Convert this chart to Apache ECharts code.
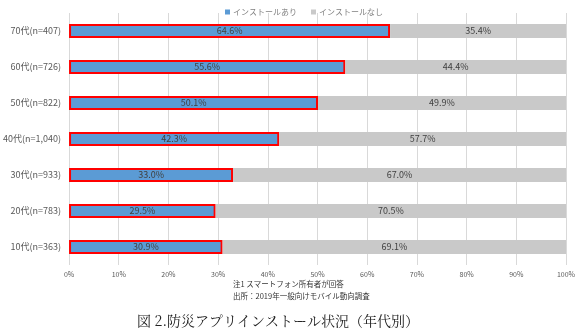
<!DOCTYPE html>
<html><head><meta charset="utf-8">
<script src="https://cdn.jsdelivr.net/npm/echarts@6/dist/echarts.min.js"></script>
<style>html,body{margin:0;padding:0;background:#fff}#c{width:580px;height:333px}</style>
</head><body><div id="c"></div>
<script>
const categories = ["70代(n=407)","60代(n=726)","50代(n=822)","40代(n=1,040)","30代(n=933)","20代(n=783)","10代(n=363)"];
const installed = [64.6, 55.6, 50.1, 42.3, 33.0, 29.5, 30.9];
const notInstalled = [35.4, 44.4, 49.9, 57.7, 67.0, 70.5, 69.1];
const seriesNames = ["インストールあり","インストールなし"];
const xTicks = [0,10,20,30,40,50,60,70,80,90,100];
const note1 = "注1 スマートフォン所有者が回答";
const note2 = "出所：2019年一般向けモバイル動向調査";
const title = "図 2.防災アプリインストール状況（年代別）";

const font = '"Noto Sans CJK JP", "Noto Sans", sans-serif';
const chart = echarts.init(document.getElementById('c'), null, {renderer:'canvas'});
chart.setOption({
  animation:false,
  textStyle:{fontFamily:font},
  legend:{
    top:3, left:220, itemWidth:5, itemHeight:5, itemGap:14,
    icon:'rect',
    itemStyle:{borderWidth:0},
    textStyle:{fontSize:8, color:'#808080', fontFamily:font, padding:[0,0,0,-2]},
    data:seriesNames
  },
  grid:{left:69, right:14, top:13, bottom:68, containLabel:false},
  xAxis:{
    type:'value', min:xTicks[0], max:xTicks[xTicks.length-1], interval:10,
    axisLine:{show:false}, axisTick:{show:false},
    splitLine:{lineStyle:{color:'#d9d9d9', width:1}},
    axisLabel:{fontSize:7, color:'#595959', margin:6, formatter:v=>v+'%'}
  },
  yAxis:{
    type:'category', inverse:true, data:categories,
    axisLine:{show:false}, axisTick:{show:false},
    axisLabel:{fontSize:9, color:'#595959', margin:8}
  },
  series:[
    {name:seriesNames[0], type:'bar', stack:'a', barWidth:14, data:installed,
     itemStyle:{color:'#5b9bd5', borderColor:'#ff0000', borderWidth:2},
     label:{show:true, position:'inside', fontSize:9, color:'#404040', formatter:p=>p.value.toFixed(1)+'%'}},
    {name:seriesNames[1], type:'bar', stack:'a', barWidth:14, data:notInstalled,
     itemStyle:{color:'#c9c9c9'},
     label:{show:true, position:'inside', fontSize:9, color:'#404040', formatter:p=>p.value.toFixed(1)+'%'}}
  ],
  graphic:[
    {type:'text', left:233, top:280, style:{text:note1, fill:'#333', font:'7.5px '+font}},
    {type:'text', left:233, top:292, style:{text:note2, fill:'#333', font:'7.5px '+font}},
    {type:'text', left:137, top:314, style:{text:title, fill:'#222', font:'14px "Noto Serif CJK JP", "Noto Sans CJK JP", serif'}}
  ]
});
</script></body></html>
